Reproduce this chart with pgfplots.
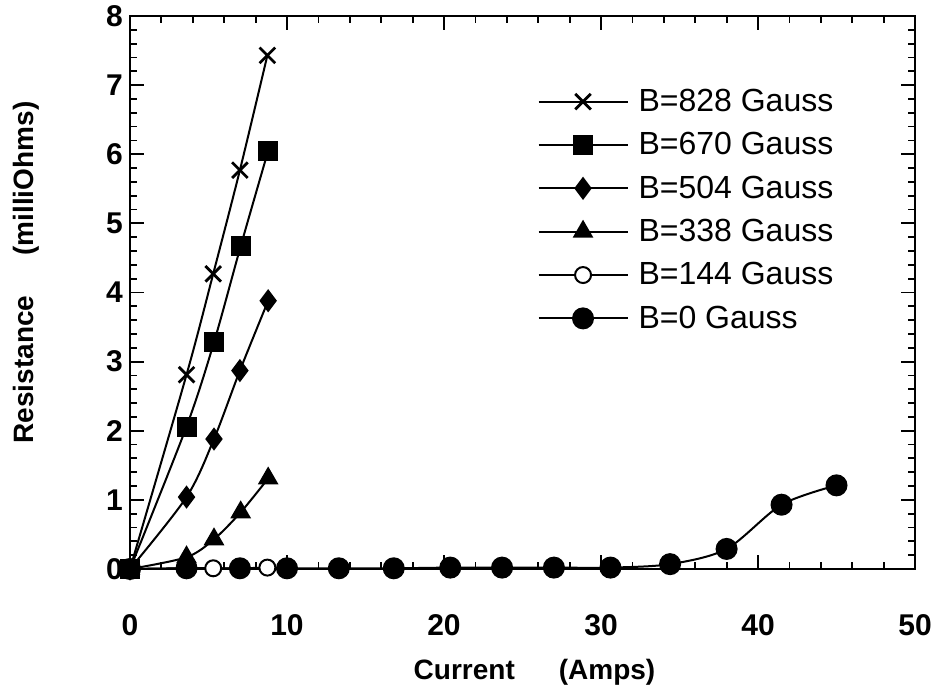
\documentclass[border=0pt]{standalone}
\usepackage{fontspec}
\setmainfont{Liberation Sans}
\usepackage{pgfplots}
\pgfplotsset{compat=1.18}
\usetikzlibrary{calc}

\begin{document}
\begin{tikzpicture}
\begin{axis}[
    scale only axis,
    width=392.5pt, height=276.5pt,
    xmin=0, xmax=50, ymin=0, ymax=8,
    xtick={0,10,...,50}, ytick={0,1,...,8},
    minor x tick num=4, minor y tick num=4,
    tick align=inside,
    major tick length=7pt, minor tick length=3.5pt,
    every tick/.style={black, line width=0.9pt},
    axis line style={line width=1.2pt},
    /pgf/number format/assume math mode=true,
    tick label style={font=\fontsize{15}{15}\selectfont\bfseries},
    xticklabel style={anchor=center, yshift=-28pt},
    xlabel={Current\hspace{22pt}(Amps)},
    ylabel={Resistance\hspace{20pt}(milliOhms)},
    label style={font=\fontsize{14}{14}\selectfont\bfseries},
    xlabel style={at={(axis description cs:0.5,0)}, anchor=center, xshift=6pt, yshift=-51.5pt},
    ylabel style={at={(axis description cs:0,0.5)}, anchor=center, xshift=10pt, yshift=52pt},
    every axis plot/.append style={black, line width=1pt, smooth, tension=0.5},
    legend style={draw=none, fill=none, at={(0.511,0.885)}, anchor=north west,
        font=\fontsize{16}{16}\selectfont, row sep=4pt,
        nodes={inner sep=2.5pt},
        /tikz/every odd column/.append style={column sep=2.5pt}},
    legend cell align=left,
    legend image code/.code={\draw[mark repeat=2,mark phase=2] plot coordinates {(0pt,0pt)(22.25pt,0pt)(44.5pt,0pt)};},
]

\addplot[mark=x, mark size=5.5pt, mark options={line width=1.4pt}] coordinates {
(0,0) (3.6,2.81) (5.3,4.27) (7.0,5.77) (8.75,7.43)};
\addlegendentry{B=828 Gauss}

\addplot[mark=square*, mark size=4.5pt] coordinates {
(0,0) (3.6,2.06) (5.35,3.28) (7.05,4.67) (8.8,6.05)};
\addlegendentry{B=670 Gauss}

\addplot[mark=diamond*, mark size=5pt] coordinates {
(0,0) (3.6,1.04) (5.35,1.88) (7.0,2.87) (8.8,3.88)};
\addlegendentry{B=504 Gauss}

\addplot[mark=triangle*, mark size=5pt] coordinates {
(0,0) (3.6,0.17) (5.35,0.43) (7.05,0.82) (8.8,1.31)};
\addlegendentry{B=338 Gauss}

\addplot[mark=*, mark size=4pt, mark options={fill=white, line width=1pt}] coordinates {
(0,0) (3.6,0.01) (5.3,0.01) (7.0,0.01) (8.75,0.02)};
\addlegendentry{B=144 Gauss}

\addplot[mark=*, mark size=5pt] coordinates {
(0,0) (3.6,0.01) (7.0,0.01) (10.0,0.01) (13.3,0.01) (16.8,0.01) (20.4,0.02)
(23.7,0.02) (27.0,0.02) (30.6,0.02) (34.4,0.07) (38.0,0.29) (41.5,0.93) (45.0,1.21)};
\addlegendentry{B=0 Gauss}

\end{axis}
\pgfresetboundingbox
\path ($(current axis.south west)+(-65pt,-62.5pt)$) rectangle ($(current axis.north east)+(12pt,8pt)$);
\end{tikzpicture}
\end{document}
